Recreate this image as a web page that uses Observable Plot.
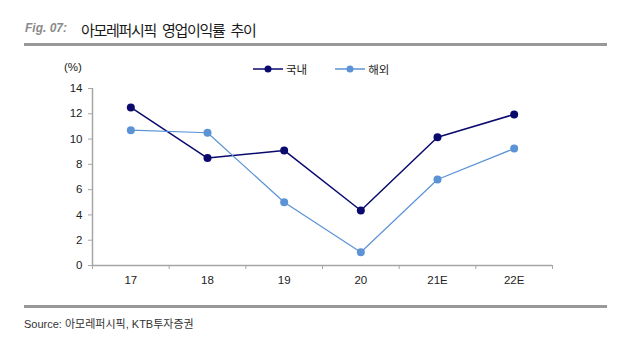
<!DOCTYPE html>
<html><head><meta charset="utf-8">
<script src="https://cdn.jsdelivr.net/npm/d3@7"></script>
<script src="https://cdn.jsdelivr.net/npm/@observablehq/plot@0.6"></script>
<style>
body{margin:0;background:#fff;width:619px;height:356px;position:relative;overflow:hidden;font-family:"Liberation Sans",Arial,sans-serif;}
.abs{position:absolute;white-space:nowrap;}
#fig{left:25px;top:21px;font-size:12px;font-style:italic;font-weight:bold;color:#8a8a8a;}
#ttl{left:81px;top:19px;font-size:15px;color:#1a1a1a;font-family:"Noto Sans CJK KR",sans-serif;letter-spacing:-1.3px;word-spacing:4px;}
.rule{left:24px;width:583px;background:#999;}
#src{left:24px;top:315px;font-size:11px;color:#333;font-family:"Liberation Sans","Noto Sans CJK KR",sans-serif;}
#pct{left:64px;top:61px;font-size:11.5px;color:#222;}
#legend{left:253px;top:61px;font-size:11.5px;color:#222;font-family:"Noto Sans CJK KR",sans-serif;display:flex;align-items:center;}
#legend span{display:inline-flex;align-items:center;margin-right:14px;}
#chart{left:0;top:50px;}
</style></head><body>
<div class="abs" id="fig">Fig. 07:</div>
<div class="abs" id="ttl">아모레퍼시픽 영업이익률 추이</div>
<div class="abs rule" style="top:43px;height:3px;"></div>
<div class="abs" id="pct">(%)</div>
<div class="abs" id="legend"></div>
<div class="abs" id="chart"></div>
<div class="abs rule" style="top:305px;height:2.5px;"></div>
<div class="abs" id="src">Source: 아모레퍼시픽, KTB투자증권</div>
<script>
const categories = ["17", "18", "19", "20", "21E", "22E"];
const domestic = [12.5, 8.5, 9.1, 4.35, 10.15, 11.95];
const overseas = [10.7, 10.5, 5.0, 1.05, 6.8, 9.25];
const seriesNames = ["국내", "해외"];
const seriesColors = ["#0a0a6e", "#5b93d6"];
const seriesWidths = [1.5, 1.2];
const yTicks = [0, 2, 4, 6, 8, 10, 12, 14];

const data = [];
categories.forEach((c, i) => {
  data.push({i, cat: c, series: seriesNames[0], v: domestic[i]});
  data.push({i, cat: c, series: seriesNames[1], v: overseas[i]});
});
const idx = categories.map((_, i) => i);
const edges = [...categories.map((_, i) => i - 0.5), categories.length - 0.5];

const axisColor = "#a6a6a6";
const chart = Plot.plot({
  width: 619,
  height: 250,
  marginLeft: 92,
  marginRight: 67,
  marginTop: 38,
  marginBottom: 35,
  style: {fontFamily: "Liberation Sans, Arial, sans-serif", fontSize: "11.5px", color: "#222", background: "transparent"},
  x: {type: "linear", domain: [-0.5, categories.length - 0.5], axis: null},
  y: {domain: [0, 14], axis: null},
  color: {domain: seriesNames, range: seriesColors},
  marks: [
    Plot.axisY({ticks: yTicks, tickSize: 4, tickPadding: 6, stroke: axisColor, label: null, tickFormat: d => d, fill: "#222"}),
    Plot.axisX({ticks: edges, tickSize: 4, tickFormat: () => "", stroke: axisColor, label: null}),
    Plot.axisX({ticks: idx, tickSize: 0, tickPadding: 10, tickFormat: i => categories[i], label: null, fill: "#222"}),
    Plot.ruleX([-0.5], {stroke: axisColor, strokeWidth: 1.5}),
    Plot.ruleY([0], {stroke: axisColor, strokeWidth: 1.5}),
    ...seriesNames.map((n, k) => Plot.line(data.filter(d => d.series === n), {x: "i", y: "v", stroke: seriesColors[k], strokeWidth: seriesWidths[k]})),
    Plot.dot(data, {x: "i", y: "v", fill: "series", r: 4, stroke: "none"})
  ]
});
document.getElementById("chart").appendChild(chart);

// legend
const leg = d3.select("#legend");
seriesNames.forEach((n, k) => {
  const s = leg.append("span");
  const svg = s.append("svg").attr("width", 30).attr("height", 10).style("margin-right", "3px");
  svg.append("line").attr("x1", 0).attr("x2", 30).attr("y1", 5).attr("y2", 5).attr("stroke", seriesColors[k]).attr("stroke-width", 1.5);
  svg.append("circle").attr("cx", 15).attr("cy", 5).attr("r", 3.5).attr("fill", seriesColors[k]);
  s.append("span").text(n);
});
</script>
</body></html>
